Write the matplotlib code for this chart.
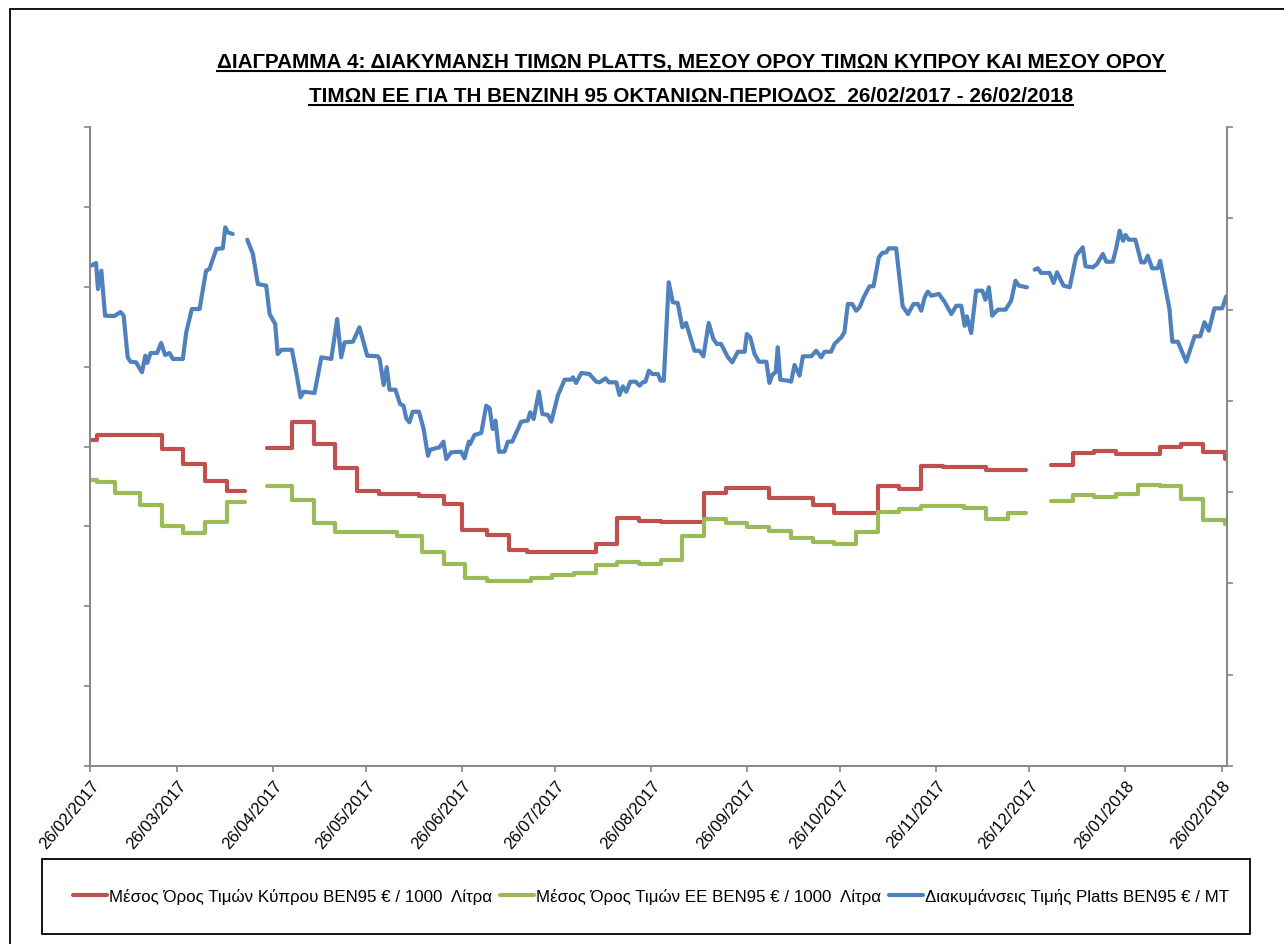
import matplotlib
matplotlib.use("Agg")
import matplotlib.pyplot as plt
from matplotlib import font_manager
from matplotlib.lines import Line2D
from matplotlib.patches import Rectangle
import numpy as np
import pandas as pd

nan = np.nan
START = pd.Timestamp("2017-02-26")

tick_labels = ["26/02/2017", "26/03/2017", "26/04/2017", "26/05/2017", "26/06/2017",
               "26/07/2017", "26/08/2017", "26/09/2017", "26/10/2017", "26/11/2017",
               "26/12/2017", "26/01/2018", "26/02/2018"]

# Cyprus average, weekly steps (day offset from 26/02/2017, level)
cy_days = [0, 2, 23, 30, 37, 44, 50, 57, 65, 72, 79, 86, 93, 106, 114, 120, 128, 135, 141, 163,
           170, 177, 184, 198, 205, 219, 233, 240, 254, 261, 268, 275, 289, 302, 310, 317, 324, 331,
           345, 352, 359, 366]
cy_vals = [408.2, 414.1, 397.2, 378.0, 356.3, 344.5, nan, 398.1, 430.8, 403.5, 373.0, 344.5, 340.3,
           337.5, 327.8, 295.5, 289.2, 270.4, 268.4, 277.9, 310.2, 306.8, 305.2, 341.6, 347.9, 335.3,
           326.2, 316.5, 350.8, 347.0, 375.9, 373.9, 370.1, nan, 377.1, 391.8, 394.0, 390.6, 399.0,
           403.1, 392.7, 384.7]

# EU average, weekly steps
eu_days = [0, 2, 8, 16, 23, 30, 37, 44, 50, 57, 65, 72, 79, 99, 107, 114, 121, 128, 142, 149,
           156, 163, 170, 177, 184, 191, 198, 205, 212, 219, 226, 233, 240, 247, 254, 261, 268, 282,
           289, 296, 302, 310, 317, 324, 331, 338, 345, 352, 359, 366]
eu_vals = [358.3, 355.4, 341.6, 326.9, 301.0, 291.4, 305.2, 329.9, nan, 350.0, 333.2, 303.9, 293.5,
           288.5, 267.5, 252.8, 235.7, 231.5, 235.7, 239.0, 241.1, 251.6, 255.0, 252.8, 257.8, 288.5,
           309.3, 304.8, 299.8, 294.3, 286.0, 280.1, 277.9, 292.6, 318.6, 321.9, 324.9, 322.8, 309.3,
           316.5, nan, 331.9, 339.5, 336.6, 340.3, 352.0, 350.0, 334.4, 308.1, 302.7]

# Platts (right axis)
platts_days = [0.2, 1.8, 2.4, 3.5, 4.7, 7.7, 9.7, 10.7, 12.0, 12.9, 14.7, 16.6, 17.7, 18.3, 19.4,
               21.5, 22.8, 24.1, 25.5, 26.6, 29.8, 30.9, 32.7, 35.2, 37.3, 38.4, 40.6, 42.7, 43.5,
               44.3, 45.9, 47.0, 50.6, 52.4, 54.0, 56.7, 57.8, 59.6, 60.4, 61.7, 65.0, 66.1, 67.8,
               68.8, 72.3, 74.5, 77.7, 79.6, 80.9, 82.0, 84.7, 86.8, 89.3, 92.7, 93.3, 94.6, 95.6,
               96.5, 98.4, 99.9, 101.0, 101.9, 102.9, 104.0, 106.0, 107.5, 108.9, 109.6, 112.6,
               113.9, 114.8, 116.4, 119.6, 120.7, 122.1, 122.5, 123.9, 126.1, 127.7, 128.8, 129.8,
               130.7, 131.8, 133.6, 134.7, 136.1, 139.0, 141.1, 141.9, 143.0, 144.7, 145.8, 147.6,
               148.7, 150.8, 153.0, 155.1, 155.7, 156.7, 158.4, 161.0, 163.2, 164.3, 166.2, 167.3,
               169.7, 170.7, 171.8, 172.9, 174.2, 175.9, 177.2, 178.2, 179.1, 180.2, 181.3, 183.1,
               184.0, 185.0, 186.6, 187.9, 189.5, 191.0, 192.2, 194.9, 196.5, 197.8, 199.5, 201.0,
               202.1, 203.5, 205.7, 207.1, 208.9, 211.1, 211.8, 212.9, 214.3, 215.7, 218.1, 219.1,
               220.0, 221.1, 221.8, 222.6, 225.0, 226.1, 227.2, 228.8, 229.9, 232.6, 234.2, 235.8,
               236.9, 239.0, 240.1, 242.3, 243.3, 244.4, 245.8, 247.1, 248.2, 249.5, 251.4, 252.7,
               254.4, 255.5, 256.8, 257.6, 260.0, 261.1, 262.1, 263.8, 265.6, 267.0, 268.1, 269.2,
               270.2, 271.3, 273.8, 275.6, 277.8, 279.4, 281.0, 282.1, 282.8, 284.2, 285.8, 287.8,
               288.8, 289.9, 291.0, 292.8, 295.3, 297.1, 298.5, 299.6, 302.2, 303.0, 304.7, 305.7,
               306.8, 309.5, 310.8, 311.9, 314.0, 316.0, 318.1, 320.2, 321.1, 323.5, 324.8, 326.7,
               327.8, 329.9, 331.0, 332.1, 333.2, 334.0, 335.1, 337.2, 339.1, 340.2, 341.2, 342.6,
               344.4, 345.2, 348.2, 349.1, 350.9, 353.6, 356.3, 358.1, 359.5, 360.9, 362.7, 365.2,
               366.5]
platts_vals = [648.1, 651.0, 622.5, 642.6, 593.3, 592.9, 597.3, 593.3, 547.7, 542.9, 542.2, 531.3,
               549.5, 541.5, 552.4, 552.4, 563.4, 550.2, 552.4, 545.9, 545.9, 575.1, 600.6, 600.6,
               642.6, 644.4, 666.4, 667.1, 690.1, 684.6, 682.8, nan, 676.5, 660.9, 628.0, 626.2,
               595.1, 584.2, 551.3, 556.0, 556.0, 536.8, 503.9, 510.0, 508.6, 547.7, 545.9, 589.7,
               547.7, 564.1, 564.8, 580.6, 549.5, 548.8, 545.9, 517.4, 536.8, 512.2, 512.2, 496.6,
               494.7, 480.9, 476.5, 488.1, 488.1, 469.2, 439.9, 446.5, 449.1, 455.3, 436.3, 443.6,
               444.3, 437.1, 455.3, 452.7, 462.6, 464.8, 494.7, 491.8, 469.2, 478.3, 444.3, 444.3,
               455.3, 455.3, 477.2, 478.3, 487.5, 480.1, 510.0, 485.6, 484.5, 477.2, 505.7, 523.2,
               523.2, 525.8, 519.6, 530.5, 529.4, 521.0, 520.3, 524.7, 520.3, 520.3, 506.4, 515.9,
               510.0, 521.0, 521.0, 516.6, 520.3, 521.0, 533.0, 529.4, 529.4, 522.1, 522.1, 629.9,
               608.0, 607.2, 580.6, 585.3, 554.9, 554.9, 548.8, 585.3, 567.8, 562.3, 562.3, 547.7,
               542.2, 553.8, 553.8, 573.2, 569.6, 551.3, 542.9, 542.9, 519.6, 528.5, 531.3, 558.7,
               523.2, 522.1, 521.0, 539.3, 527.6, 548.8, 548.8, 554.9, 547.7, 553.8, 553.8, 562.3,
               569.6, 575.1, 606.1, 606.1, 598.8, 602.5, 613.4, 625.5, 625.5, 657.3, 662.0, 662.7,
               667.1, 667.1, 633.5, 603.6, 595.1, 606.1, 606.1, 598.8, 613.4, 619.6, 615.2, 617.1,
               608.6, 595.1, 604.2, 604.2, 582.3, 592.6, 574.3, 620.7, 620.7, 610.8, 624.4, 593.3,
               599.9, 599.9, 609.7, 631.6, 626.2, 624.4, nan, 643.7, 645.2, 640.1, 640.1, 629.2,
               640.8, 626.2, 624.4, 659.0, 668.2, 647.4, 646.3, 649.9, 660.9, 652.4, 652.4, 667.1,
               686.4, 675.4, 681.7, 676.5, 676.5, 651.7, 651.7, 659.0, 645.2, 645.2, 653.5, 600.6,
               564.8, 564.8, 542.9, 570.7, 570.7, 586.1, 576.9, 601.4, 601.4, 614.5]

labels = ["Μέσος Όρος Τιμών Κύπρου ΒΕΝ95 € / 1000  Λίτρα",
          "Μέσος Όρος Τιμών ΕΕ ΒΕΝ95 € / 1000  Λίτρα",
          "Διακυμάνσεις Τιμής Platts ΒΕΝ95 € / ΜΤ"]
title_lines = ["ΔΙΑΓΡΑΜΜΑ 4: ΔΙΑΚΥΜΑΝΣΗ ΤΙΜΩΝ PLATTS, ΜΕΣΟΥ ΟΡΟΥ ΤΙΜΩΝ ΚΥΠΡΟΥ ΚΑΙ ΜΕΣΟΥ ΟΡΟΥ",
               "ΤΙΜΩΝ ΕΕ ΓΙΑ ΤΗ ΒΕΝΖΙΝΗ 95 ΟΚΤΑΝΙΩΝ-ΠΕΡΙΟΔΟΣ  26/02/2017 - 26/02/2018"]


def pick_font(*names):
    avail = {f.name for f in font_manager.fontManager.ttflist}
    for n in names:
        if n in avail:
            return n
    return "DejaVu Sans"


narrow = pick_font("Liberation Sans Narrow", "Liberation Sans")
plt.rcParams["font.family"] = [narrow, "DejaVu Sans"]

W, H = 1284, 945
fig = plt.figure(figsize=(W / 100, H / 100), dpi=100)
ax = fig.add_axes([90.5 / W, 1 - 767 / H, (1226.5 - 90.5) / W, (767 - 128) / H])
ax2 = ax.twinx()

to_dates = lambda d: START + pd.to_timedelta(np.asarray(d, dtype=float), unit="D")

red, green, blue = "#C0504D", "#9BBB59", "#4F81BD"
lw = 3.0
l1, = ax.plot(to_dates(cy_days), cy_vals, color=red, lw=lw, drawstyle="steps-post",
              solid_joinstyle="round", solid_capstyle="round")
l2, = ax.plot(to_dates(eu_days), eu_vals, color=green, lw=lw, drawstyle="steps-post",
              solid_joinstyle="round", solid_capstyle="round")
l3, = ax2.plot(to_dates(platts_days), platts_vals, color=blue, lw=lw,
               solid_joinstyle="round", solid_capstyle="round")

ax.set_xlim(START, START + pd.Timedelta(days=366.6))
ax.set_ylim(0, 800)
ax2.set_ylim(100, 800)
ax.set_yticks(np.arange(0, 801, 100))
ax2.set_yticks(np.arange(100, 801, 100))
ax.set_yticklabels([])
ax2.set_yticklabels([])

tick_pos = pd.to_datetime(tick_labels, format="%d/%m/%Y")
ax.set_xticks(tick_pos)
ax.set_xticklabels(tick_labels, rotation=50, ha="right", va="top", rotation_mode="anchor",
                   fontsize=12)

grey = "#868686"
for a in (ax, ax2):
    a.spines["top"].set_visible(False)
    for s in ("left", "right", "bottom"):
        a.spines[s].set_color(grey)
        a.spines[s].set_linewidth(1.2)
    a.tick_params(axis="both", colors=grey, length=4, width=1.2, direction="out")
ax.tick_params(axis="x", labelcolor="black", pad=4)

# title with underline
fig.canvas.draw()
renderer = fig.canvas.get_renderer()
for txt, base in zip(title_lines, [68, 102]):
    t = fig.text(691 / W, 1 - base / H, txt, ha="center", va="baseline",
                 fontsize=14.9, fontweight="bold")
    bb = t.get_window_extent(renderer)
    yline = 1 - (base + 4) / H
    fig.add_artist(Line2D([bb.x0 / W, bb.x1 / W], [yline, yline], color="black", lw=1.5))

# legend box
fig.add_artist(Rectangle((42 / W, 1 - 935 / H), (1250 - 42) / W, 75 / H, fill=False,
                         edgecolor="black", lw=1.3, transform=fig.transFigure))
fig.legend([l1, l2, l3], labels, loc="center", bbox_to_anchor=(651 / W, 1 - 897 / H),
           ncol=3, frameon=False, fontsize=12.2, handlelength=2.0, handletextpad=0.1,
           columnspacing=0.5)

# outer chart border (left / top edges visible)
fig.add_artist(Rectangle((10 / W, -0.05), 1.1, 1 - 10 / H + 0.05, fill=False,
                         edgecolor="black", lw=1.3, transform=fig.transFigure))

fig.savefig("out.png", dpi=100)
